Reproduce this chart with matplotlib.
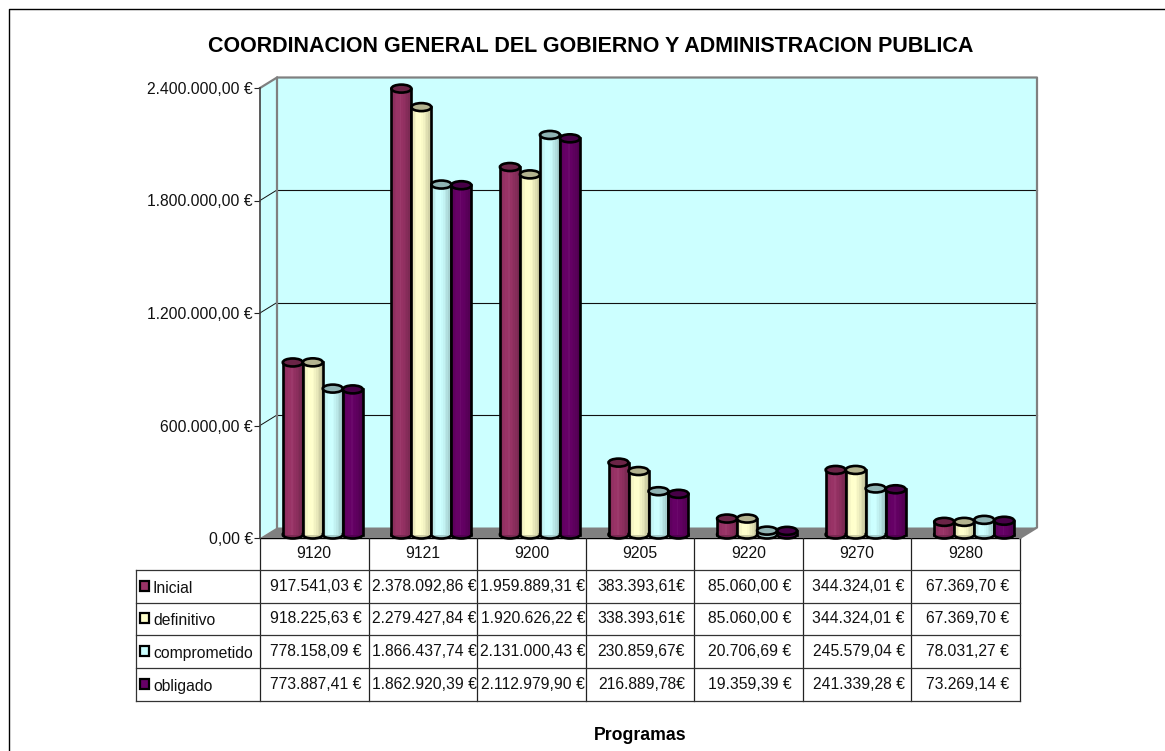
import matplotlib
matplotlib.use('Agg')
import matplotlib.pyplot as plt
from matplotlib.patches import Ellipse, Polygon, Rectangle
import numpy as np

plt.rcParams['font.family'] = ['Liberation Sans', 'DejaVu Sans']

programas = ['9120', '9121', '9200', '9205', '9220', '9270', '9280']
series = ['Inicial', 'definitivo', 'comprometido', 'obligado']
inicial = ['917.541,03 €', '2.378.092,86 €', '1.959.889,31 €', '383.393,61€', '85.060,00 €', '344.324,01 €', '67.369,70 €']
definitivo = ['918.225,63 €', '2.279.427,84 €', '1.920.626,22 €', '338.393,61€', '85.060,00 €', '344.324,01 €', '67.369,70 €']
comprometido = ['778.158,09 €', '1.866.437,74 €', '2.131.000,43 €', '230.859,67€', '20.706,69 €', '245.579,04 €', '78.031,27 €']
obligado = ['773.887,41 €', '1.862.920,39 €', '2.112.979,90 €', '216.889,78€', '19.359,39 €', '241.339,28 €', '73.269,14 €']
colores = ['#993366', '#FFFFCC', '#CCFFFF', '#660066']
ticks = [0, 600000, 1200000, 1800000, 2400000]
tick_labels = ['0,00 €', '600.000,00 €', '1.200.000,00 €', '1.800.000,00 €', '2.400.000,00 €']

filas = [inicial, definitivo, comprometido, obligado]
W, H = 1165, 751
AX_L, AX_R, AX_T, AX_B = 260, 1020, 88, 538
YMAX = ticks[-1]
# px -> data
px = len(programas) / (AX_R - AX_L)
py = YMAX / (AX_B - AX_T)
FS = 11.3


def a_numero(txt):
    return float(txt.replace('€', '').replace('.', '').replace(',', '.').strip())


def mezcla(color, f):
    c = np.array(matplotlib.colors.to_rgb(color))
    if f < 1:
        return tuple(c * f)
    return tuple(c + (1 - c) * (f - 1))


fig = plt.figure(figsize=(W / 100, H / 100), dpi=100)
fondo = fig.add_axes([0, 0, 1, 1])
fondo.set_xlim(0, W)
fondo.set_ylim(H, 0)
fondo.axis('off')

ax = fig.add_axes([AX_L / W, 1 - AX_B / H, (AX_R - AX_L) / W, (AX_B - AX_T) / H])
ax.patch.set_visible(False)
ax.set_xlim(0, len(programas))
ax.set_ylim(0, YMAX)

# walls and floor
dx, dy = 17 * px, 10.5 * py
n = len(programas)
gris = '#808080'
ax.add_patch(Rectangle((dx, dy), n, YMAX, fc='#CCFFFF', ec='none', clip_on=False, zorder=1))
ax.add_patch(Polygon([(0, 0), (0, YMAX), (dx, YMAX + dy), (dx, dy)], fc='#CCFFFF', ec='none', clip_on=False, zorder=1))
ax.add_patch(Polygon([(0, 0), (n, 0), (n + dx, dy), (dx, dy)], fc=gris, ec='none', clip_on=False, zorder=1))
for v in ticks[1:-1]:
    ax.plot([0, dx], [v, v + dy], color='#111111', lw=0.7, clip_on=False, zorder=2)
    ax.plot([dx, n + dx], [v + dy, v + dy], color='#111111', lw=0.8, clip_on=False, zorder=2)
ax.plot([dx, dx, n + dx, n + dx, n], [dy, YMAX + dy, YMAX + dy, dy, 0], color=gris, lw=1.6, clip_on=False, zorder=2)
ax.plot([0, dx], [YMAX, YMAX + dy], color=gris, lw=1.6, clip_on=False, zorder=2)

# cylinders
ancho = 20 * px
off_x, off_y = 8.5 * px, 3.5 * py
elipse = 8 * py
perfil = [0.86, 0.92, 0.97, 1.0, 1.0, 1.03, 0.98, 0.95, 0.91, 0.87, 0.82, 0.76]
borde = 1.9
z = 3
for i in range(n):
    for j, fila in enumerate(filas):
        v = a_numero(fila[i])
        x0 = i + 0.5 + off_x + (j - 2) * ancho
        color = colores[j]
        xc = x0 + ancho / 2
        ax.add_patch(Ellipse((xc, off_y), ancho, elipse, fc=mezcla(color, 0.8), ec='black', lw=borde, clip_on=False, zorder=z))
        z += 1
        tira = ancho / len(perfil)
        for k, f in enumerate(perfil):
            ax.bar(x0 + k * tira, v, tira * 1.05, bottom=off_y, align='edge',
                   color=mezcla(color, f), lw=0, clip_on=False, zorder=z)
        z += 1
        ax.plot([x0, x0], [off_y, off_y + v], color='black', lw=borde, clip_on=False, zorder=z)
        ax.plot([x0 + ancho, x0 + ancho], [off_y, off_y + v], color='black', lw=borde, clip_on=False, zorder=z)
        z += 1
        ax.add_patch(Ellipse((xc, off_y + v), ancho, elipse, fc=mezcla(color, 0.7), ec='black', lw=borde, clip_on=False, zorder=z))
        z += 1

ax.set_xticks([])
ax.set_yticks(ticks)
ax.set_yticklabels(tick_labels, fontsize=FS, color='#111111')
ax.tick_params(axis='y', length=4.5, width=0.8, pad=0.5, color='#222222')
for s in ['top', 'right', 'bottom']:
    ax.spines[s].set_visible(False)
ax.spines['left'].set_color('#404040')
ax.spines['left'].set_linewidth(1.2)
ax.spines['left'].set_zorder(2)

# frame around the picture
fondo.plot([9, 9, W], [H, 8.5, 8.5], color='black', lw=1.0)

# data table
col_x = np.linspace(AX_L, AX_R, n + 1)
fila_y = np.linspace(570, 700.5, len(series) + 1)
linea = '#333333'
fondo.plot([AX_L, AX_R], [AX_B, AX_B], color='black', lw=1.0)
for x in col_x:
    fondo.plot([x, x], [AX_B, fila_y[-1]], color='#222222', lw=0.9)
for y in fila_y:
    fondo.plot([136, AX_R], [y, y], color=linea, lw=0.9)
fondo.plot([136, 136], [fila_y[0], fila_y[-1]], color=linea, lw=0.9)

for i, p in enumerate(programas):
    fondo.text((col_x[i] + col_x[i + 1]) / 2, 554, p, ha='center', va='center', fontsize=FS, color='#111111')
for j, nombre in enumerate(series):
    yc = (fila_y[j] + fila_y[j + 1]) / 2
    fondo.add_patch(Rectangle((140, yc - 5.5), 9, 10, fc=colores[j], ec='black', lw=1.6))
    fondo.text(153, yc + 2, nombre, ha='left', va='center', fontsize=FS, color='#111111')
    for i, txt in enumerate(filas[j]):
        fondo.text((col_x[i] + col_x[i + 1]) / 2 + 1.5, yc, txt, ha='center', va='center', fontsize=FS, color='#111111')

fondo.text(591, 46, 'COORDINACION GENERAL DEL GOBIERNO Y ADMINISTRACION PUBLICA',
           ha='center', va='center', fontsize=15.5, fontweight='bold', color='black')
fondo.text(640, 736, 'Programas', ha='center', va='center', fontsize=12.7, fontweight='bold', color='black')

fig.savefig('out.png', dpi=100)
